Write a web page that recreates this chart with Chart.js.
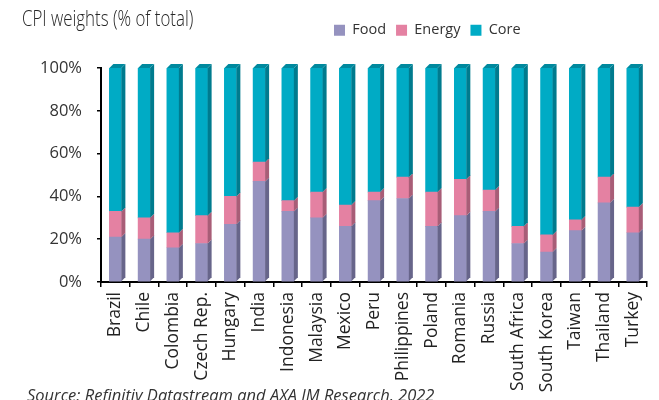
<!DOCTYPE html>
<html>
<head>
<meta charset="utf-8">
<script src="https://cdn.jsdelivr.net/npm/chart.js@4/dist/chart.umd.min.js"></script>
<style>
  html, body { margin: 0; padding: 0; background: #fff; }
  #wrap { position: relative; width: 659px; height: 400px; overflow: hidden; }
  #title {
    position: absolute; left: 22px; top: 2px;
    font-family: "Open Sans", sans-serif; font-weight: 300; font-size: 22.5px; color: #262626;
    white-space: nowrap; transform: scaleX(0.75); transform-origin: left top;
  }
  #source {
    position: absolute; left: 27px; top: 383px;
    font-family: "Open Sans", sans-serif; font-style: italic; font-size: 16.5px; color: #333;
    white-space: nowrap;
  }
</style>
</head>
<body>
<div id="wrap">
  <canvas id="cpiChart" width="659" height="400"></canvas>
  <div id="title">CPI weights (% of total)</div>
  <div id="source">Source: Refinitiv Datastream and AXA IM Research, 2022</div>
</div>
<script>
const countries = ['Brazil', 'Chile', 'Colombia', 'Czech Rep.', 'Hungary', 'India', 'Indonesia',
    'Malaysia', 'Mexico', 'Peru', 'Philippines', 'Poland', 'Romania', 'Russia', 'South Africa',
    'South Korea', 'Taiwan', 'Thailand', 'Turkey'];
const food = [21, 20, 16, 18, 27, 47, 33, 30, 26, 38, 39, 26, 31, 33, 18, 14, 24, 37, 23];
const energy = [12, 10, 7, 13, 13, 9, 5, 12, 10, 4, 10, 16, 17, 10, 8, 8, 5, 12, 12];
const core = [67, 70, 77, 69, 60, 44, 62, 58, 64, 58, 51, 58, 52, 57, 74, 78, 71, 51, 65];
const yTicks = [0, 20, 40, 60, 80, 100];

// side / top faces to fake the 3d look of the original
const depth = 4;
const sideColors = ['#67658a', '#a85d77', '#007b8e'];
const capColor = '#00899e';

const barSides = {
    id: 'barSides',
    afterDatasetsDraw(chart) {
        const ctx = chart.ctx;
        ctx.save();
        chart.data.datasets.forEach((ds, i) => {
            const meta = chart.getDatasetMeta(i);
            meta.data.forEach(bar => {
                const left = bar.x - bar.width / 2;
                const right = bar.x + bar.width / 2;
                ctx.fillStyle = sideColors[i];
                ctx.beginPath();
                ctx.moveTo(right, bar.y);
                ctx.lineTo(right + depth, bar.y - depth);
                ctx.lineTo(right + depth, bar.base - depth);
                ctx.lineTo(right, bar.base);
                ctx.closePath();
                ctx.fill();
                if (i === chart.data.datasets.length - 1) {
                    ctx.fillStyle = capColor;
                    ctx.beginPath();
                    ctx.moveTo(left, bar.y);
                    ctx.lineTo(left + depth, bar.y - depth);
                    ctx.lineTo(right + depth, bar.y - depth);
                    ctx.lineTo(right, bar.y);
                    ctx.closePath();
                    ctx.fill();
                }
            });
        });
        ctx.restore();
    }
};

// legend sits on the title line, starting at x=334
const legendPlace = {
    id: 'legendPlace',
    beforeInit(chart) {
        const fit = chart.legend.fit;
        chart.legend.fit = function () {
            fit.call(this);
            this.height = 55;
        };
    },
    afterLayout(chart) {
        const pad = chart.options.plugins.legend.labels.padding;
        chart.legend.left = 334 - pad;
    }
};

new Chart(document.getElementById('cpiChart'), {
    type: 'bar',
    data: {
        labels: countries,
        datasets: [
            { label: 'Food', data: food, backgroundColor: '#9592bf' },
            { label: 'Energy', data: energy, backgroundColor: '#e481a2' },
            { label: 'Core', data: core, backgroundColor: '#00abc5' }
        ]
    },
    options: {
        responsive: false,
        animation: false,
        barThickness: 12,
        layout: { padding: { top: 13, right: 7, left: 0, bottom: 0 } },
        plugins: {
            legend: {
                position: 'top',
                align: 'start',
                labels: {
                    boxWidth: 11,
                    boxHeight: 11,
                    padding: 10,
                    color: '#333',
                    font: { family: 'Open Sans', size: 14.5 }
                }
            },
            tooltip: { enabled: false }
        },
        scales: {
            x: {
                stacked: true,
                afterFit(scale) { scale.height = 118; },
                border: { color: '#000', width: 2 },
                grid: { drawOnChartArea: false, color: '#000', lineWidth: 1.5, tickLength: 5 },
                ticks: {
                    autoSkip: false,
                    minRotation: 90,
                    maxRotation: 90,
                    padding: 5,
                    color: '#222',
                    font: { family: 'Open Sans', size: 17.5 }
                }
            },
            y: {
                stacked: true,
                min: 0,
                max: 100,
                afterFit(scale) { scale.width = 101; },
                afterBuildTicks(scale) { scale.ticks = yTicks.map(v => ({ value: v })); },
                border: { color: '#000', width: 2 },
                grid: { drawOnChartArea: false, color: '#000', lineWidth: 1.5, tickLength: 4 },
                ticks: {
                    padding: 15,
                    color: '#333',
                    font: { family: 'Open Sans', size: 16.5 },
                    callback: v => v + '%'
                }
            }
        }
    },
    plugins: [barSides, legendPlace]
});
</script>
</body>
</html>
